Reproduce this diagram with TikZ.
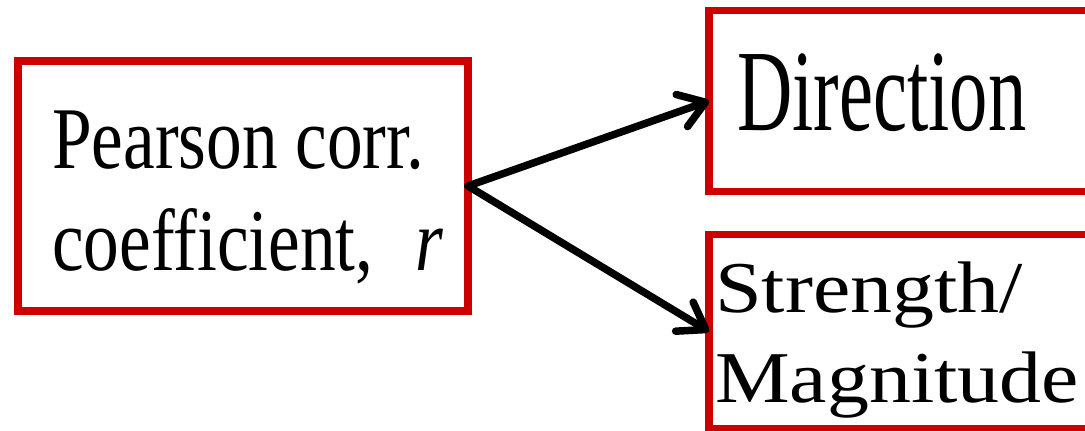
\documentclass[tikz,border=0pt]{standalone}
\usepackage{fontspec}
\setmainfont{Liberation Serif}
\newfontfamily\pfont[FakeStretch=0.81]{Liberation Serif}
\newfontfamily\dfont[FakeStretch=0.66]{Liberation Serif}
\newfontfamily\sfont[FakeStretch=1.15]{Liberation Serif}
\usetikzlibrary{arrows.meta}
\definecolor{boxred}{RGB}{204,0,0}
\tikzset{
  redbox/.style={draw=boxred, line width=7.5pt, rectangle, inner sep=0pt, outer sep=0pt},
  txt/.style={anchor=base west, inner sep=0pt, text=black},
  arr/.style={draw=black, line width=7.5pt, line cap=round, -{Straight Barb[length=25pt,width=34pt,round]}}
}
\begin{document}
\begin{tikzpicture}[x=1pt,y=-1pt]
\useasboundingbox (0,0) rectangle (1085,431);
\clip (0,0) rectangle (1085,431);
\fill[white] (0,0) rectangle (1085,431);
% boxes
\node[redbox, minimum width=450pt, minimum height=250pt] (L) at (243,186) {};
\node[redbox, minimum width=386pt, minimum height=181pt] (D) at (902,101) {};
\node[redbox, minimum width=386pt, minimum height=194pt] (S) at (902,331.5) {};
% texts
\node[txt, font=\pfont\fontsize{88pt}{100pt}\selectfont] (p1) at (52,168) {Pearson corr.};
\node[txt, font=\pfont\fontsize{88pt}{100pt}\selectfont] (p2) at (52,270) {coefficient,\hspace{42pt}\textit{r}};
\node[txt, font=\dfont\fontsize{116pt}{130pt}\selectfont] (d1) at (737,130) {Direction};
\node[txt, font=\sfont\fontsize{73pt}{90pt}\selectfont] (s1) at (715,312) {Strength/};
\node[txt, font=\sfont\fontsize{73pt}{90pt}\selectfont] (s2) at (715,402) {Magnitude};
% arrows
\draw[arr] (L.east) -- (D.west);
\draw[arr] (L.east) -- (S.west);
\end{tikzpicture}
\end{document}
